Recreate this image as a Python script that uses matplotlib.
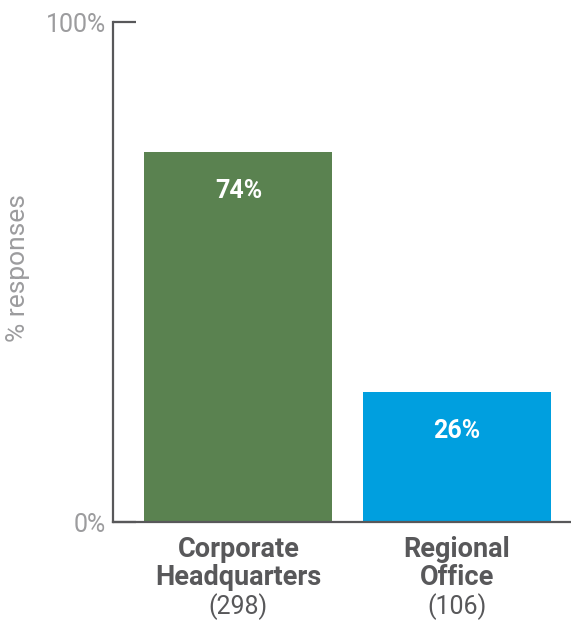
import numpy as np
import matplotlib
matplotlib.use("Agg")
import matplotlib.pyplot as plt

plt.rcParams['font.family'] = ['Roboto', 'DejaVu Sans']

categories = ["Corporate\nHeadquarters", "Regional\nOffice"]
counts = ["(298)", "(106)"]
values = [74, 26]
colors = ["#5a8250", "#009fdf"]

axis_col = "#58585a"
grey_txt = "#9c9c9e"

fig = plt.figure(figsize=(5.71, 6.24), dpi=100)
W, H = 571, 624
ax = fig.add_axes([113 / W, (H - 522) / H, (W - 113) / W, 500 / H])

x = np.arange(len(values))
bars = ax.bar(x, values, width=0.86, color=colors, zorder=2)

ax.set_xlim(-0.574, 1.522)
ax.set_ylim(0, 100)

for sp in ["top", "right"]:
    ax.spines[sp].set_visible(False)
for sp in ["left", "bottom"]:
    ax.spines[sp].set_color(axis_col)
    ax.spines[sp].set_linewidth(1.6)
    ax.spines[sp].set_zorder(3)

ax.set_yticks([0, 100])
ax.set_yticklabels(["0%", "100%"])
ax.tick_params(axis="y", direction="in", length=16.5, width=1.6, color=axis_col,
               labelsize=18, labelcolor=grey_txt, pad=5)
ax.set_xticks([])

# value labels inside the bars
for xi, v in zip(x, values):
    ax.annotate(f"{v}%", xy=(xi, v), xytext=(0, -28), textcoords="offset points",
                ha="center", va="center", color="white", fontsize=18, fontweight="bold")

# category names and respondent counts under the axis
for xi, cat, n in zip(x, categories, counts):
    ax.annotate(cat, xy=(xi, 0), xycoords=("data", "axes fraction"),
                xytext=(0, -10), textcoords="offset points",
                ha="center", va="top", color="#58585a", fontsize=19.5,
                fontweight="bold", linespacing=1.05)
    ax.annotate(n, xy=(xi, 0), xycoords=("data", "axes fraction"),
                xytext=(0, -61), textcoords="offset points",
                ha="center", va="center", color="#58585a", fontsize=18)

fig.text(18 / W, 1 - 268 / H, "% responses", rotation=90, ha="center", va="center",
         color=grey_txt, fontsize=19)

fig.savefig("out.png", dpi=100)
